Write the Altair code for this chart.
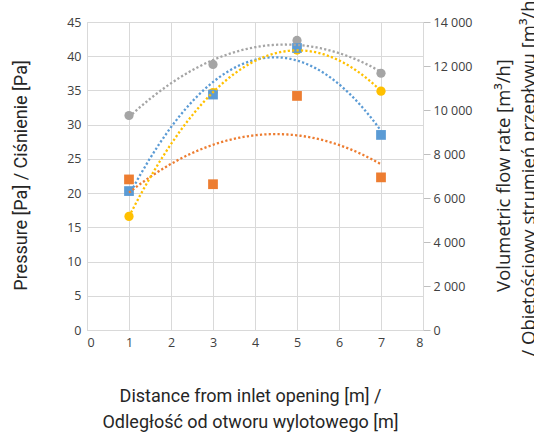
import altair as alt
import pandas as pd

# ---- data ----
distance = [1, 3, 5, 7]
pressure_blue = [20.3, 34.4, 41.2, 28.5]
pressure_orange = [22.0, 21.3, 34.2, 22.3]
pressure_yellow = [16.6, 34.7, 40.9, 34.9]
flow_grey = [9750, 12070, 13160, 11670]   # right axis [m3/h]

series_names = ["blue", "orange", "yellow"]
series_colors = ["#5B9BD5", "#ED7D31", "#FFC000"]
grey_color = "#A5A5A5"

x_ticks = [0, 1, 2, 3, 4, 5, 6, 7, 8]
left_ticks = [0, 5, 10, 15, 20, 25, 30, 35, 40, 45]
right_ticks = [0, 2000, 4000, 6000, 8000, 10000, 12000, 14000]

x_title = ["Distance from inlet opening [m] /", "Odległość od otworu wylotowego [m]"]
left_title = "Pressure [Pa] / Ciśnienie [Pa]"
right_title = ["Volumetric flow rate [m³/h]", "/ Obietościowy strumień przepływu [m³/h]"]

# ---- tables ----
rows = []
for name, vals in zip(series_names, [pressure_blue, pressure_orange, pressure_yellow]):
    for xv, yv in zip(distance, vals):
        rows.append({"x": xv, "y": yv, "series": name})
pdf = pd.DataFrame(rows)
gdf = pd.DataFrame({"x": distance, "y": flow_grey})

LABEL_FONT = "Open Sans"
TITLE_FONT = "Roboto"
GRID = "#d9d9d9"
TXT = "#404040"
TTL = "#262626"

x_axis = alt.Axis(values=x_ticks, grid=True, gridColor=GRID, ticks=False, tickSize=0,
                  domainColor=GRID, labelPadding=6, labelFont=LABEL_FONT, labelFontSize=12.5,
                  labelColor=TXT, title=x_title, titleFont=TITLE_FONT, titleFontSize=18,
                  titleFontWeight="normal", titleColor=TTL, titleX=163, titleY=66,
                  titleAlign="center", titleBaseline="middle", titleLineHeight=26)
x_scale = alt.Scale(domain=[0, 8], nice=False, zero=False)

def X():
    return alt.X("x:Q", scale=x_scale, axis=x_axis)

left_scale = alt.Scale(domain=[0, 45], nice=False, zero=True)
right_scale = alt.Scale(domain=[0, 14000], nice=False, zero=True)

left_axis = alt.Axis(values=left_ticks, grid=True, gridColor=GRID, ticks=False, tickSize=0,
                     domain=False, labelPadding=6, labelFont=LABEL_FONT, labelFontSize=12.5,
                     labelColor=TXT, title=left_title, titleFont=TITLE_FONT, titleFontSize=18,
                     titleFontWeight="normal", titleColor=TTL, titleX=-66, titleY=153,
                     titleAngle=270, titleAlign="center", titleBaseline="middle")

right_axis = alt.Axis(orient="right", values=right_ticks, grid=False, ticks=True, tickSize=7,
                      tickColor="#bfbfbf", domain=True, domainColor=GRID, labelPadding=3,
                      labelFont=LABEL_FONT, labelFontSize=12.5, labelColor=TXT,
                      labelExpr="replace(format(datum.value, ','), ',', ' ')",
                      title=right_title, titleFont="Open Sans", titleFontSize=18.5,
                      titleFontWeight="normal", titleColor=TTL, titleX=80, titleY=153,
                      titleAngle=270, titleAlign="center", titleBaseline="middle",
                      titleLineHeight=25)

color_scale = alt.Scale(domain=series_names, range=series_colors)

grey_pts = alt.Chart(gdf).mark_circle(size=85, opacity=1, color=grey_color).encode(
    x=X(), y=alt.Y("y:Q", scale=right_scale, axis=right_axis))

def pts(name, shape):
    base = alt.Chart(pdf).transform_filter(alt.datum.series == name)
    color = series_colors[series_names.index(name)]
    if shape == "circle":
        m = base.mark_circle(size=85, opacity=1, color=color)
    else:
        m = base.mark_point(shape="square", filled=True, size=95, opacity=1, color=color)
    return m

yellow_pts = pts("yellow", "circle").encode(
    x=X(), y=alt.Y("y:Q", scale=left_scale, axis=left_axis))
blue_pts = pts("blue", "square").encode(
    x=X(), y=alt.Y("y:Q", scale=left_scale, axis=None))
orange_pts = pts("orange", "square").encode(
    x=X(), y=alt.Y("y:Q", scale=left_scale, axis=None))

trends = alt.Chart(pdf).transform_regression(
    "x", "y", groupby=["series"], method="poly", order=2, extent=[1, 7]
).mark_line(strokeDash=[2.2, 2.2], strokeWidth=2.3).encode(
    x=X(), y=alt.Y("y:Q", scale=left_scale, axis=None),
    color=alt.Color("series:N", scale=color_scale, legend=None),
    detail="series:N")

grey_trend = alt.Chart(gdf).transform_regression(
    "x", "y", method="poly", order=2, extent=[1, 7]
).mark_line(strokeDash=[2.2, 2.2], strokeWidth=2.3, color=grey_color).encode(
    x=X(), y=alt.Y("y:Q", scale=right_scale, axis=None))

chart = alt.layer(grey_pts, yellow_pts, blue_pts, orange_pts, trends, grey_trend).resolve_scale(
    y="independent"
).properties(
    width=336, height=308,
    autosize=alt.AutoSizeParams(type="none"),
    padding={"left": 87, "top": 22, "right": 111, "bottom": 104},
).configure_view(stroke=None).configure(background="white")

chart.save("out.html", embed_options={"renderer": "svg", "actions": False})
